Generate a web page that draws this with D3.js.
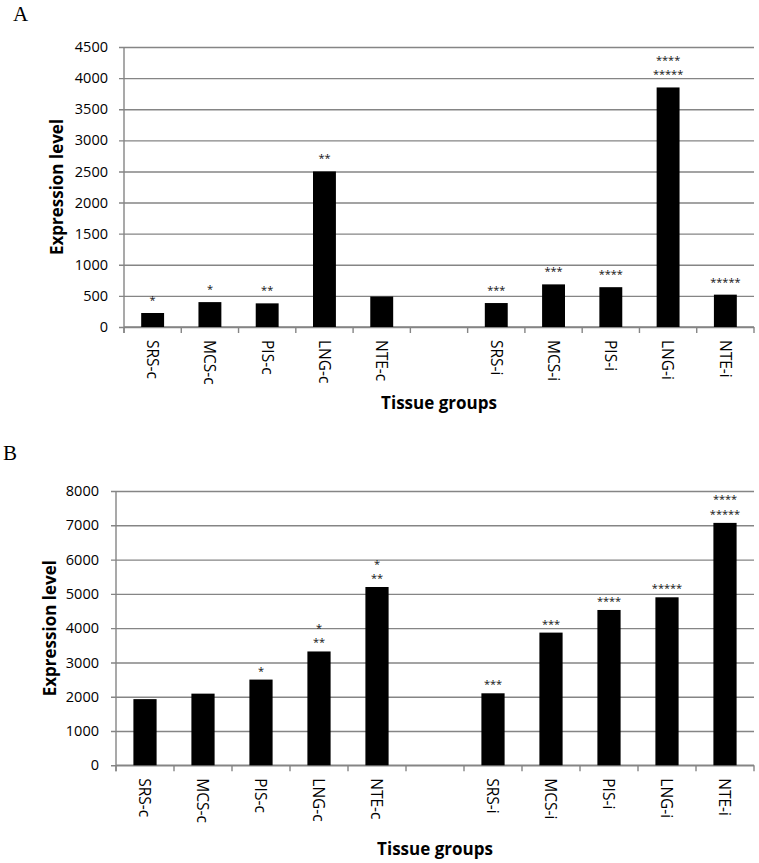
<!DOCTYPE html>
<html>
<head>
<meta charset="utf-8">
<script src="https://cdn.jsdelivr.net/npm/d3@7"></script>
<style>
  html, body { margin: 0; padding: 0; background: #fff; }
  svg { display: block; }
</style>
</head>
<body>
<svg id="chart" width="759" height="863"></svg>
<script>
// ---------- data ----------
const categories = ["SRS-c", "MCS-c", "PIS-c", "LNG-c", "NTE-c", "", "SRS-i", "MCS-i", "PIS-i", "LNG-i", "NTE-i"];
const valuesA = [225, 400, 380, 2500, 490, null, 385, 685, 640, 3850, 520];
const valuesB = [1930, 2090, 2500, 3320, 5200, null, 2100, 3870, 4530, 4900, 7070];
const starsA = [["*"], ["*"], ["**"], ["**"], [], [], ["***"], ["***"], ["****"], ["****", "*****"], ["*****"]];
const starsB = [[], [], ["*"], ["*", "**"], ["*", "**"], [], ["***"], ["***"], ["****"], ["*****"], ["****", "*****"]];
const ticksA = [0, 500, 1000, 1500, 2000, 2500, 3000, 3500, 4000, 4500];
const ticksB = [0, 1000, 2000, 3000, 4000, 5000, 6000, 7000, 8000];
const yTitle = "Expression level";
const xTitle = "Tissue groups";

// ---------- drawing ----------
const svg = d3.select("#chart");
const FONT = "'Open Sans', Lato, sans-serif";
const GRID = "#858585";

function panel(opts) {
  const g = svg.append("g");
  const x = d3.scaleBand().domain(d3.range(categories.length))
    .range([opts.left, opts.right]).paddingInner(0.6).paddingOuter(0.3);
  const y = d3.scaleLinear().domain([0, opts.max]).range([opts.bottom, opts.top]);

  // panel letter
  svg.append("text").attr("x", opts.letterX).attr("y", opts.letterY)
    .attr("font-family", "'Liberation Serif', 'Times New Roman', serif")
    .attr("font-size", 21).attr("fill", "#000").text(opts.letter);

  // y axis with gridlines
  const yAxis = d3.axisLeft(y).tickValues(opts.ticks).tickSize(-(opts.right - opts.left)).tickPadding(0)
    .tickFormat(d3.format("d"));
  const ya = g.append("g").attr("transform", `translate(${opts.left},0)`).call(yAxis);
  ya.select(".domain").remove();
  ya.selectAll(".tick line").attr("stroke", GRID).attr("stroke-width", 1.4)
    .attr("x1", -5);
  ya.selectAll(".tick text").attr("x", -opts.labelGap).attr("font-family", FONT)
    .attr("font-size", 14.5).attr("fill", "#000");
  // vertical axis line
  g.append("line").attr("x1", opts.left).attr("x2", opts.left)
    .attr("y1", opts.top).attr("y2", opts.bottom + 6)
    .attr("stroke", GRID).attr("stroke-width", 1.4);

  // x axis baseline + slot ticks
  g.append("line").attr("x1", opts.left).attr("x2", opts.right)
    .attr("y1", y(0)).attr("y2", y(0)).attr("stroke", GRID).attr("stroke-width", 1.4);
  const step = x.step();
  const off = (step - x.bandwidth()) / 2;
  const bounds = d3.range(categories.length).map(i => x(i) - off).concat([x(categories.length - 1) - off + step]);
  g.selectAll(".xt").data(bounds).join("line")
    .attr("x1", d => d).attr("x2", d => d)
    .attr("y1", y(0)).attr("y2", y(0) + 6)
    .attr("stroke", GRID).attr("stroke-width", 1.4);

  // bars
  const data = opts.values.map((v, i) => ({ i, v, stars: opts.stars[i] }));
  g.selectAll(".bar").data(data.filter(d => d.v != null)).join("rect")
    .attr("x", d => x(d.i)).attr("width", x.bandwidth())
    .attr("y", d => y(d.v)).attr("height", d => y(0) - y(d.v))
    .attr("fill", "#000");

  // star labels
  data.forEach(d => {
    if (d.v == null) return;
    const n = d.stars.length;
    d.stars.forEach((s, k) => {
      const cy = y(d.v) - opts.starGap - (n - 1 - k) * 14.5;
      g.append("text").attr("x", x(d.i) + x.bandwidth() / 2).attr("y", cy + 7)
        .attr("text-anchor", "middle").attr("font-family", FONT)
        .attr("font-size", 11).attr("fill", "#111").text(s);
    });
  });

  // category labels (rotated)
  categories.forEach((c, i) => {
    if (!c) return;
    const cx = x(i) + x.bandwidth() / 2;
    g.append("text")
      .attr("transform", `translate(${cx},${y(0) + 13}) rotate(90)`)
      .attr("dy", "0.36em").attr("font-family", FONT).attr("font-size", 15.5)
      .attr("fill", "#000").text(c);
  });

  // axis titles
  g.append("text")
    .attr("transform", `translate(${opts.yTitleX},${(opts.top + opts.bottom) / 2}) rotate(-90)`)
    .attr("text-anchor", "middle").attr("dy", "0.36em")
    .attr("font-family", FONT).attr("font-weight", "bold").attr("font-size", 17)
    .attr("fill", "#000").text(yTitle);
  g.append("text")
    .attr("x", (opts.left + opts.right) / 2).attr("y", opts.xTitleY)
    .attr("text-anchor", "middle")
    .attr("font-family", FONT).attr("font-weight", "bold").attr("font-size", 17)
    .attr("fill", "#000").text(xTitle);
}

panel({ left: 124, right: 754, top: 47, bottom: 327, max: 4500, ticks: ticksA,
  values: valuesA, stars: starsA, labelGap: 16, starGap: 16,
  letter: "A", letterX: 13, letterY: 21, yTitleX: 57, xTitleY: 409 });

panel({ left: 116, right: 754, top: 491, bottom: 765.3, max: 8000, ticks: ticksB,
  values: valuesB, stars: starsB, labelGap: 17, starGap: 12,
  letter: "B", letterX: 3, letterY: 460, yTitleX: 50, xTitleY: 855 });
</script>
</body>
</html>
